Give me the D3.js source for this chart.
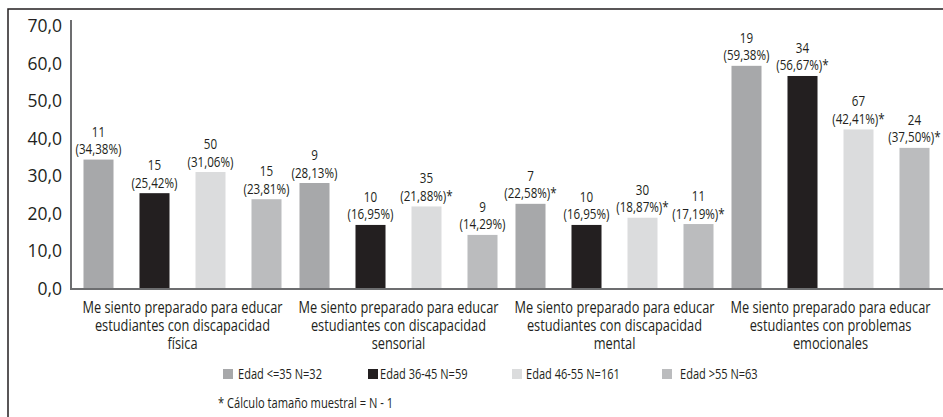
<!DOCTYPE html>
<html><head><meta charset="utf-8">
<script src="https://cdn.jsdelivr.net/npm/d3@7"></script>
<style>
body{margin:0;background:#fff;}
svg{display:block;}
.narrow{font-family:"Open Sans",sans-serif;}
</style></head>
<body><svg id="c" width="943" height="417"></svg>
<script>
const categories = [
  ["Me siento preparado para educar","estudiantes con discapacidad","física"],
  ["Me siento preparado para educar","estudiantes con discapacidad","sensorial"],
  ["Me siento preparado para educar","estudiantes con discapacidad","mental"],
  ["Me siento preparado para educar","estudiantes con problemas","emocionales"]
];
const seriesNames = ["Edad <=35 N=32","Edad 36-45 N=59","Edad 46-55 N=161","Edad >55 N=63"];
const seriesColors = ["#a7a8aa","#231f20","#dbdcdd","#bbbcbe"];
// percentages per category, one entry per series
const percentValues = [
  [34.38, 25.42, 31.06, 23.81],
  [28.13, 16.95, 21.88, 14.29],
  [22.58, 16.95, 18.87, 17.19],
  [59.38, 56.67, 42.41, 37.50]
];
const countValues = [
  [11, 15, 50, 15],
  [9, 10, 35, 9],
  [7, 10, 30, 11],
  [19, 34, 67, 24]
];
const asteriskFlags = [
  [false,false,false,false],
  [false,false,true,false],
  [true,false,true,true],
  [false,true,true,true]
];
const yTicks = [0,10,20,30,40,50,60,70];
const footnote = "* Cálculo tamaño muestral = N - 1";

const svg = d3.select("#c");
// outer frame
svg.append("rect").attr("x",8).attr("y",9).attr("width",1000).attr("height",500)
  .attr("fill","none").attr("stroke","#231f20").attr("stroke-width",1.5);

const y = d3.scaleLinear().domain([0,70]).range([288.5,26]);
const x0 = d3.scaleBand().domain(d3.range(categories.length)).range([74.5,938.5]).padding(0);
const x1 = d3.scaleBand().domain(d3.range(seriesNames.length)).range([-112,112]).paddingInner(0.464).paddingOuter(0.232);

const fmt = v => d3.format(".2f")(v).replace(".",",");

// condense narrow text: scale each tspan/text horizontally by factor k
function condense(nodes, k){
  nodes.forEach(n=>{
    const len = n.getComputedTextLength();
    if(len>0){ n.setAttribute("textLength", (len*k).toFixed(2)); n.setAttribute("lengthAdjust","spacingAndGlyphs"); }
  });
}
function factorFor(str, size, target){
  const t = svg.append("text").attr("class","narrow").attr("font-size",size).text(str);
  const w = t.node().getComputedTextLength(); t.remove(); return target/w;
}
const catSize = 17, labSize = 14.5, legSize = 14;
const kCat = factorFor("Me siento preparado para educar",catSize,200);
const kLab = factorFor("(34,38%)",labSize,46);
const kLeg = factorFor("Edad <=35 N=32",legSize,84);
const kFoot = factorFor(footnote,legSize,175);

// y tick labels
svg.append("g").selectAll("text").data(yTicks).join("text")
  .attr("x",62).attr("y",d=>y(d)).attr("dy","0.35em").attr("text-anchor","end")
  .attr("font-family","'Open Sans',sans-serif").attr("font-size",17.5).attr("fill","#231f20")
  .text(d=>d3.format(".1f")(d).replace(".",","));

// bars
const g = svg.append("g");
const labNodes = [], catNodes = [];
percentValues.forEach((vals,ci)=>{
  const cx = x0(ci)+x0.bandwidth()/2;
  vals.forEach((v,si)=>{
    const bx = cx + x1(si);
    g.append("rect").attr("x",bx).attr("y",y(v)).attr("width",x1.bandwidth())
      .attr("height",y(0)-y(v)).attr("fill",seriesColors[si]);
    const t = g.append("text").attr("class","narrow").attr("font-size",labSize).attr("fill","#231f20")
      .attr("text-anchor","middle");
    const mx = bx + x1.bandwidth()/2;
    labNodes.push(t.append("tspan").attr("x",mx).attr("y",y(v)-23).text(countValues[ci][si]).node());
    labNodes.push(t.append("tspan").attr("x",mx).attr("y",y(v)-5.5)
      .text("("+fmt(v)+"%)"+(asteriskFlags[ci][si]?"*":"")).node());
  });
  // category label
  const ct = svg.append("text").attr("class","narrow").attr("font-size",catSize).attr("fill","#231f20")
    .attr("text-anchor","middle");
  categories[ci].forEach((line,li)=>{
    catNodes.push(ct.append("tspan").attr("x",cx).attr("y",312.5+li*18.3).text(line).node());
  });
});
condense(labNodes,kLab);
condense(catNodes,kCat);

// axes lines
svg.append("line").attr("x1",71).attr("x2",71).attr("y1",20).attr("y2",289.5)
  .attr("stroke","#6d6e70").attr("stroke-width",2);
svg.append("line").attr("x1",70).attr("x2",943).attr("y1",289).attr("y2",289)
  .attr("stroke","#6d6e70").attr("stroke-width",2);

// legend
const legendX = [223,368,512,662];
const legendTextX = [238,380,526,680];
const lg = svg.append("g");
const legNodes = [];
seriesNames.forEach((n,i)=>{
  lg.append("rect").attr("x",legendX[i]).attr("y",369).attr("width",10).attr("height",10).attr("fill",seriesColors[i]);
  legNodes.push(lg.append("text").attr("class","narrow").attr("x",legendTextX[i]).attr("y",374).attr("dy","0.35em")
    .attr("font-size",legSize).attr("fill","#231f20").text(n).node());
});
condense(legNodes,kLeg);
const fn = svg.append("text").attr("class","narrow").attr("x",218).attr("y",403).attr("dy","0.35em")
  .attr("font-size",legSize).attr("fill","#231f20").text(footnote);
condense([fn.node()],kFoot);
</script></body></html>
